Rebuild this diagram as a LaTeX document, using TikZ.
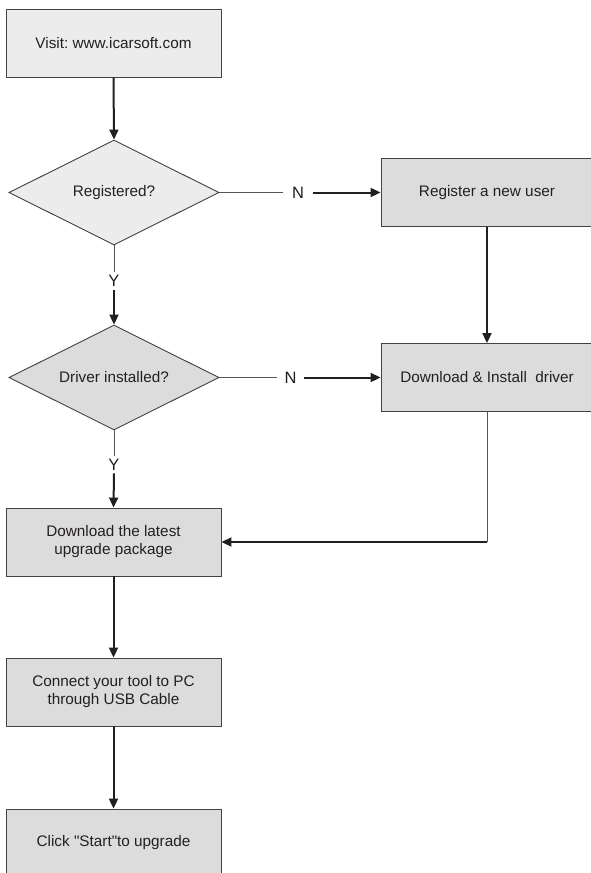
\documentclass[tikz,border=0pt]{standalone}
\usepackage{fontspec}
\setmainfont{Liberation Sans}
\usetikzlibrary{shapes.geometric,arrows.meta}
\frenchspacing
\newcommand\straightdq{\XeTeXglyph\XeTeXglyphindex "quotedbl"\relax}
\definecolor{ink}{HTML}{231F20}
\definecolor{lightfill}{HTML}{ECECEC}
\definecolor{darkfill}{HTML}{DCDCDC}
\definecolor{thinline}{HTML}{555555}
\tikzset{
  procbox/.style={rectangle,draw=ink!85,line width=0.9pt,minimum width=215pt,minimum height=68pt,inner sep=0pt,align=center,font=\fontsize{15.3}{18}\selectfont,text=ink},
  decbox/.style={diamond,draw=ink!85,line width=0.9pt,minimum width=210pt,minimum height=105pt,aspect=2,inner sep=0pt,align=center,font=\fontsize{15.3}{18}\selectfont,text=ink},
  lbl/.style={font=\fontsize{16.5}{18}\selectfont,text=ink,inner sep=0pt},
  thinconn/.style={draw=thinline,line width=0.8pt},
  flow/.style={draw=ink,line width=2pt,-{Triangle[length=10pt,width=9pt]}},
}
\begin{document}
\begin{tikzpicture}[x=1pt,y=-1pt]
\useasboundingbox (0,0) rectangle (591,873);
\fill[white] (0,0) rectangle (591,873);
% nodes
\node[procbox,fill=lightfill] (visit) at (113.5,43) {Visit: www.icarsoft.com};
\node[decbox,fill=lightfill] (reg) at (114,192.5) {Registered?};
\node[procbox,fill=darkfill,minimum width=212pt] (newuser) at (487,192.5) {Register a new user};
\node[decbox,fill=darkfill] (drvq) at (114,377.5) {Driver installed?};
\node[procbox,fill=darkfill,minimum width=212pt] (drv) at (487,377.5) {Download \& Install~ driver};
\node[procbox,fill=darkfill] (pkg) at (113.5,542) {Download the latest\\upgrade package};
\node[procbox,fill=darkfill] (usb) at (113.5,692) {Connect your tool to PC\\through USB Cable};
\node[procbox,fill=darkfill] (start) at (113.5,843) {Click \straightdq Start\straightdq to upgrade};
% labels
\node[lbl,inner xsep=9pt] (n1) at (298,192.5) {N};
\node[lbl,inner xsep=7pt] (n2) at (290.5,377.5) {N};
\node[lbl,inner ysep=3pt] (y1) at (114,281) {Y};
\node[lbl,inner ysep=3pt] (y2) at (114,464.5) {Y};
\coordinate (corner) at (drv.south |- pkg.east);
% connectors
\draw[flow] (visit.south) -- (reg.north);
\draw[thinconn] (reg.east) -- (n1.west);
\draw[flow] (n1.east) -- (newuser.west);
\draw[flow] (newuser.south) -- (drv.north);
\draw[thinconn] (reg.south) -- (y1.north);
\draw[flow] (y1.south) -- (drvq.north);
\draw[thinconn] (drvq.east) -- (n2.west);
\draw[flow] (n2.east) -- (drv.west);
\draw[thinconn] (drvq.south) -- (y2.north);
\draw[flow] (y2.south) -- (pkg.north);
\draw[thinconn] (drv.south) -- (corner);
\draw[flow] (corner) -- (pkg.east);
\draw[flow] (pkg.south) -- (usb.north);
\draw[flow] (usb.south) -- (start.north);
\end{tikzpicture}
\end{document}
